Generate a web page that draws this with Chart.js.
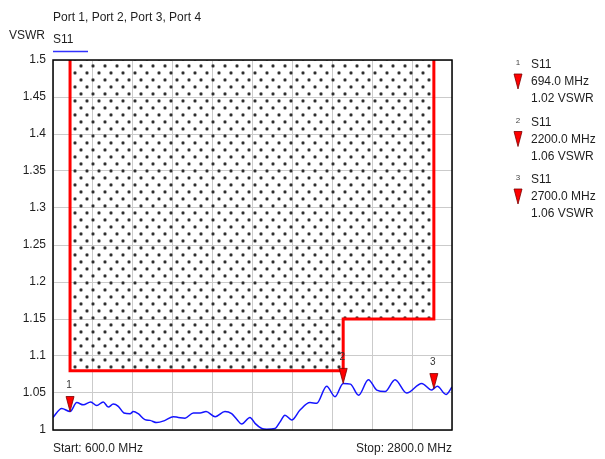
<!DOCTYPE html>
<html>
<head>
<meta charset="utf-8">
<script src="https://cdn.jsdelivr.net/npm/chart.js@4"></script>
<style>
  html, body { margin: 0; padding: 0; background: #fff; }
  #wrap { width: 605px; height: 459px; }
</style>
</head>
<body>
<div id="wrap"><canvas id="vswrChart" width="605" height="459"></canvas></div>
<script>
// trace S11
const freqMHz = [600, 648, 694, 731, 767, 808, 841, 877, 905, 932, 960, 991, 1025, 1043, 1070, 1107, 1135, 1172, 1218, 1263, 1291, 1328, 1374, 1411, 1444, 1494, 1548, 1585, 1613, 1640, 1686, 1714, 1751, 1778, 1824, 1852, 1879, 1916, 1962, 2017, 2054, 2109, 2155, 2200, 2240, 2285, 2339, 2385, 2431, 2486, 2550, 2633, 2688, 2700, 2719, 2767, 2800];
const vswr = [1.017, 1.029, 1.025, 1.037, 1.034, 1.038, 1.033, 1.038, 1.031, 1.035, 1.032, 1.023, 1.022, 1.025, 1.022, 1.014, 1.013, 1.010, 1.013, 1.018, 1.017, 1.016, 1.023, 1.023, 1.025, 1.018, 1.025, 1.022, 1.0145, 1.008, 1.017, 1.009, 1.002, 1.001, 1.002, 1.011, 1.020, 1.0135, 1.027, 1.037, 1.036, 1.059, 1.045, 1.063, 1.062, 1.047, 1.068, 1.054, 1.052, 1.068, 1.050, 1.063, 1.054, 1.056, 1.059, 1.048, 1.058];

// limit mask
const maskFreq = [694, 694, 2200, 2200, 2700, 2700];
const maskVswr = [1.5, 1.08, 1.08, 1.15, 1.15, 1.5];

// markers
const markerIds = ['1', '2', '3'];
const markerFreq = [694, 2200, 2700];
const markerVswr = [1.02, 1.06, 1.06];

const yTickLabels = ['1', '1.05', '1.1', '1.15', '1.2', '1.25', '1.3', '1.35', '1.4', '1.45', '1.5'];
const titleText = 'Port 1, Port 2, Port 3, Port 4';
const traceName = 'S11';
const startLabel = 'Start: 600.0 MHz';
const stopLabel = 'Stop: 2800.0 MHz';

const FONT = '"Liberation Sans", Arial, sans-serif';

// dotted fill for the mask
function makeDots() {
    const c = document.createElement('canvas');
    c.width = 12; c.height = 14;
    const g = c.getContext('2d');
    [[3, 3], [9, 10]].forEach(p => {
        g.fillStyle = 'rgba(120,120,120,0.45)';
        g.beginPath();
        g.arc(p[0], p[1], 2.1, 0, Math.PI * 2);
        g.fill();
        g.fillStyle = '#2e2e2e';
        g.beginPath();
        g.arc(p[0], p[1], 1.4, 0, Math.PI * 2);
        g.fill();
    });
    return g.createPattern(c, 'repeat');
}
const dots = makeDots();

function triangle(ctx, x, tipY) {
    ctx.beginPath();
    ctx.moveTo(x - 4, tipY - 15);
    ctx.lineTo(x + 4, tipY - 15);
    ctx.lineTo(x, tipY);
    ctx.closePath();
    ctx.fillStyle = '#ff0000';
    ctx.fill();
    ctx.strokeStyle = '#7a0000';
    ctx.lineWidth = 0.8;
    ctx.stroke();
}

const decorations = {
    id: 'decorations',
    afterDraw(chart) {
        const ctx = chart.ctx;
        const a = chart.chartArea;
        const xs = chart.scales.x, ys = chart.scales.y;
        ctx.save();

        // frame
        ctx.strokeStyle = '#000';
        ctx.lineWidth = 1.5;
        ctx.strokeRect(a.left, a.top, a.right - a.left, a.bottom - a.top);

        // header texts
        ctx.fillStyle = '#1e1e1e';
        ctx.font = '12px ' + FONT;
        ctx.textBaseline = 'middle';
        ctx.textAlign = 'left';
        ctx.fillText(titleText, 53, 18);
        ctx.fillText('VSWR', 9, 36);
        ctx.fillText(traceName, 53, 40);
        ctx.strokeStyle = '#3333ff';
        ctx.lineWidth = 1.5;
        ctx.beginPath();
        ctx.moveTo(53, 51.5); ctx.lineTo(88, 51.5);
        ctx.stroke();

        // start / stop
        ctx.fillStyle = '#1e1e1e';
        ctx.textAlign = 'left';
        ctx.fillText(startLabel, a.left, 449);
        ctx.textAlign = 'right';
        ctx.fillText(stopLabel, a.right, 449);

        // markers on trace
        markerFreq.forEach((f, i) => {
            const k = freqMHz.indexOf(f);
            const x = xs.getPixelForValue(f);
            const y = ys.getPixelForValue(vswr[k]);
            triangle(ctx, x, y);
            ctx.fillStyle = '#333';
            ctx.font = '10px ' + FONT;
            ctx.textAlign = 'center';
            ctx.fillText(markerIds[i], x - 1, y - 26);
        });

        // marker table on the right
        markerFreq.forEach((f, i) => {
            const top = 65 + i * 57.5;
            ctx.fillStyle = '#444';
            ctx.font = '8px ' + FONT;
            ctx.textAlign = 'center';
            ctx.fillText(markerIds[i], 518, top - 2);
            ctx.fillStyle = '#1e1e1e';
            ctx.font = '12px ' + FONT;
            ctx.textAlign = 'left';
            ctx.fillText(traceName, 531, top);
            ctx.fillText(f.toFixed(1) + ' MHz', 531, top + 17);
            ctx.fillText(markerVswr[i].toFixed(2) + ' VSWR', 531, top + 34);
            triangle(ctx, 518, top + 24);
        });
        ctx.restore();
    }
};

new Chart(document.getElementById('vswrChart'), {
    type: 'line',
    data: {
        datasets: [{
            label: 'mask',
            data: maskFreq.map((f, i) => ({ x: f, y: maskVswr[i] })),
            borderColor: '#ff0000',
            borderWidth: 3,
            backgroundColor: dots,
            fill: 'end',
            pointRadius: 0,
            tension: 0
        }, {
            label: traceName,
            data: freqMHz.map((f, i) => ({ x: f, y: vswr[i] })),
            borderColor: '#1515ff',
            borderWidth: 1.5,
            fill: false,
            pointRadius: 0,
            cubicInterpolationMode: 'monotone'
        }]
    },
    options: {
        responsive: false,
        animation: false,
        layout: { padding: { left: 8, right: 153, top: 60, bottom: 0 } },
        plugins: {
            legend: { display: false },
            tooltip: { enabled: false }
        },
        scales: {
            x: {
                type: 'linear',
                min: 600,
                max: 2800,
                ticks: { display: false, stepSize: 220 },
                grid: { color: '#cbcbcb', drawTicks: false },
                border: { display: false },
                afterFit: s => { s.height = 29; }
            },
            y: {
                min: 1,
                max: 1.5,
                ticks: {
                    stepSize: 0.05,
                    padding: 7,
                    color: '#1e1e1e',
                    font: { family: FONT, size: 12 },
                    callback: (v, i) => yTickLabels[i]
                },
                grid: { color: '#cbcbcb', drawTicks: false },
                border: { display: false },
                afterFit: s => { s.width = 45; }
            }
        }
    },
    plugins: [decorations]
});
</script>
</body>
</html>
